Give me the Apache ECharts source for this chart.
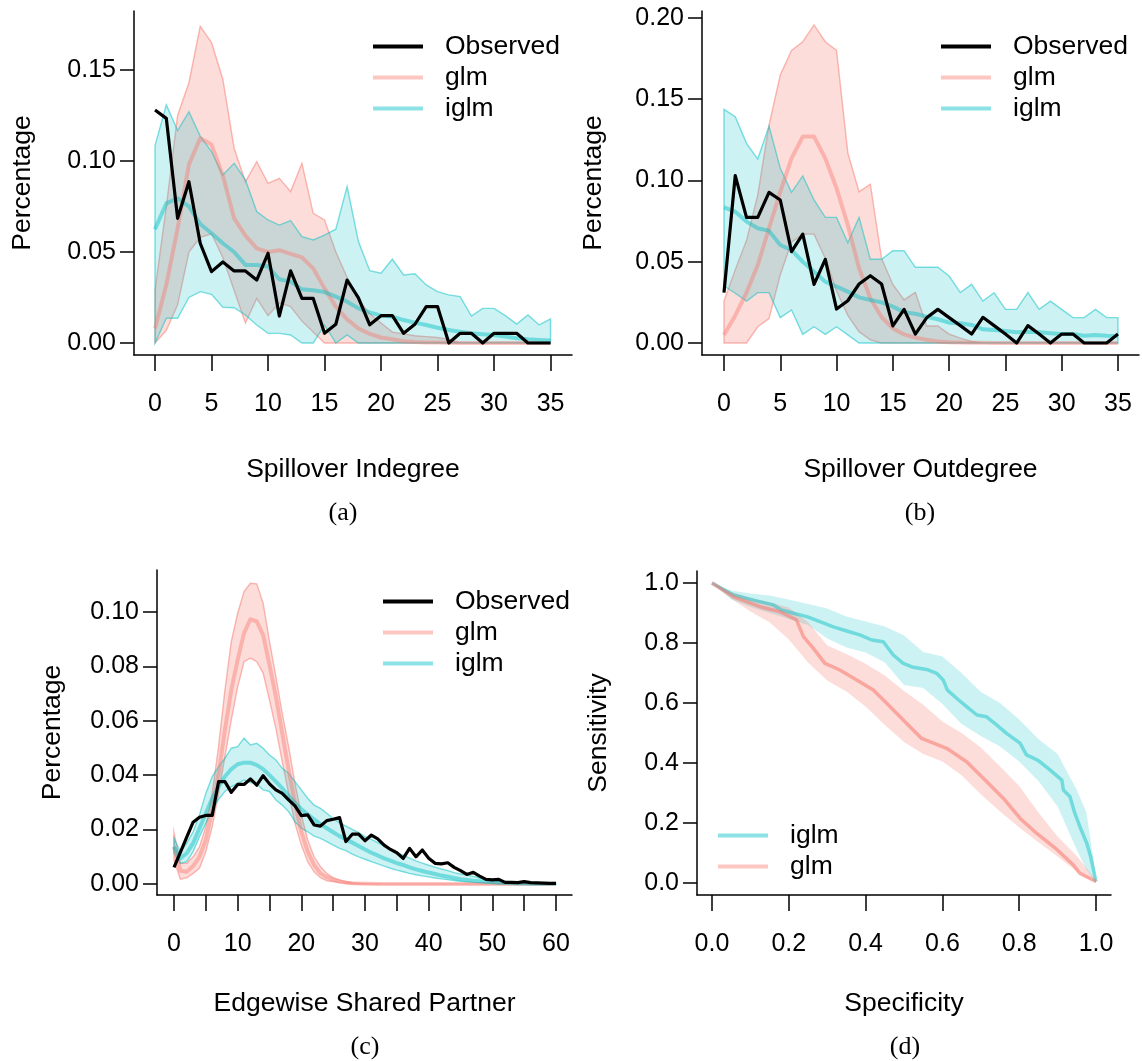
<!DOCTYPE html>
<html>
<head>
<meta charset="utf-8">
<script src="https://cdn.jsdelivr.net/npm/echarts@6/dist/echarts.min.js"></script>
<style>
html,body{margin:0;padding:0;background:#fff;}
#c{width:1142px;height:1061px;}
</style>
</head>
<body>
<div id="c"></div>
<script>
// ---------- DATA ----------
const degX = [0,1,2,3,4,5,6,7,8,9,10,11,12,13,14,15,16,17,18,19,20,21,22,23,24,25,26,27,28,29,30,31,32,33,34,35];
const espX = [0,1,2,3,4,5,6,7,8,9,10,11,12,13,14,15,16,17,18,19,20,21,22,23,24,25,26,27,28,29,30,31,32,33,34,35,36,37,38,39,40,41,42,43,44,45,46,47,48,49,50,51,52,53,54,55,56,57,58,59,60];

// (a) Spillover Indegree
const aObs = [0.128,0.1234,0.0685,0.0886,0.0548,0.0392,0.0445,0.0396,0.0396,0.0346,0.0493,0.0148,0.0396,0.0245,0.0245,0.0053,0.0103,0.0346,0.0248,0.0100,0.015,0.015,0.0053,0.0103,0.02,0.02,0,0.0053,0.0053,0,0.0053,0.0053,0.0053,0,0,0];
const aGlmMean = [0.008,0.032,0.063,0.098,0.1125,0.109,0.092,0.0685,0.059,0.052,0.050,0.051,0.049,0.047,0.041,0.030,0.020,0.013,0.008,0.005,0.003,0.002,0.001,0.0005,0.0003,0.0002,0.0001,0,0,0,0,0,0,0,0,0];
const aGlmHi = [0.029,0.075,0.125,0.143,0.174,0.165,0.145,0.107,0.0886,0.0996,0.0877,0.0905,0.0832,0.0987,0.0712,0.0676,0.050,0.036,0.024,0.016,0.011,0.006,0.005,0.004,0.0035,0.003,0.002,0,0,0,0,0,0,0,0,0];
const aGlmLo = [0,0.007,0.021,0.05,0.058,0.06,0.047,0.029,0.011,0.0245,0.015,0.022,0.02,0.012,0.006,0,0,0,0,0,0,0,0,0,0,0,0,0,0,0,0,0,0,0,0,0];
const aIglmMean = [0.0625,0.0767,0.0795,0.075,0.0654,0.0603,0.0548,0.050,0.0429,0.0429,0.042,0.035,0.0337,0.0295,0.029,0.028,0.0255,0.0227,0.019,0.0168,0.015,0.0145,0.0126,0.0112,0.0099,0.0084,0.0071,0.0062,0.0053,0.0048,0.0044,0.0035,0.0026,0.002,0.0016,0.0013];
const aIglmHi = [0.1084,0.1308,0.1167,0.1271,0.1137,0.1051,0.0923,0.0987,0.0896,0.0722,0.0676,0.0648,0.0672,0.0584,0.0566,0.0593,0.0625,0.0859,0.0557,0.0397,0.0383,0.046,0.0374,0.038,0.0319,0.0282,0.0264,0.0255,0.0148,0.019,0.019,0.015,0.0104,0.0154,0.0099,0.0132];
const aIglmLo = [0,0.0136,0.0136,0.025,0.0282,0.0267,0.0196,0.0194,0.0154,0.0099,0.0053,0.0053,0.0044,0,0,0.0099,0,0.0044,0,0,0,0,0,0,0,0,0,0,0,0,0,0,0,0,0,0];

// (b) Spillover Outdegree
const bObs = [0.031,0.103,0.0773,0.0773,0.0927,0.088,0.0562,0.067,0.0361,0.0515,0.0209,0.026,0.0363,0.0414,0.0363,0.0105,0.0207,0.0055,0.0155,0.0207,0.0156,0.0107,0.0055,0.0158,0.0107,0.0055,0,0.0107,0.0055,0,0.0055,0.0055,0,0,0,0.0055];
const bGlmMean = [0.005,0.017,0.031,0.048,0.0706,0.093,0.1136,0.127,0.127,0.1136,0.0952,0.0726,0.046,0.0275,0.016,0.009,0.0053,0.0033,0.002,0.001,0.0005,0.0003,0.0002,0.0001,0,0,0,0,0,0,0,0,0,0,0,0];
const bGlmHi = [0.0258,0.045,0.063,0.091,0.134,0.165,0.18,0.1854,0.1957,0.1854,0.18,0.117,0.093,0.0977,0.052,0.036,0.0265,0.0312,0.0105,0.0105,0.0055,0.003,0.001,0,0,0,0,0,0,0,0,0,0,0,0,0];
const bGlmLo = [0,0,0,0.01,0.015,0.042,0.062,0.067,0.067,0.052,0.032,0.017,0.007,0.002,0,0,0,0,0,0,0,0,0,0,0,0,0,0,0,0,0,0,0,0,0,0];
const bIglmMean = [0.0835,0.0808,0.0747,0.0706,0.069,0.0603,0.0572,0.050,0.0439,0.0377,0.0347,0.0316,0.0281,0.0265,0.025,0.0224,0.019,0.018,0.0162,0.0146,0.0125,0.0121,0.0111,0.0084,0.008,0.0074,0.0066,0.007,0.0066,0.006,0.0055,0.0055,0.0045,0.0049,0.0045,0.0043];
const bIglmHi = [0.1438,0.1393,0.1229,0.1132,0.1335,0.1075,0.0927,0.1028,0.088,0.0773,0.0773,0.0617,0.0773,0.0515,0.0515,0.0568,0.0568,0.0466,0.0466,0.0466,0.0412,0.031,0.0361,0.0258,0.031,0.0207,0.0207,0.031,0.0207,0.0258,0.0207,0.0156,0.0156,0.0207,0.0156,0.0156];
const bIglmLo = [0.0351,0.0306,0.0258,0.031,0.031,0.0156,0.0203,0.0053,0.01,0.0053,0.01,0.005,0,0,0,0,0,0,0,0,0,0,0,0,0,0,0,0,0,0,0,0,0,0,0,0];

// (c) Edgewise Shared Partner
const cObs = [0.0061,0.0116,0.0172,0.0227,0.0245,0.0252,0.0252,0.0376,0.0376,0.0337,0.0366,0.0366,0.0386,0.0363,0.0398,0.0368,0.0346,0.0333,0.0309,0.0287,0.0251,0.0254,0.0217,0.0213,0.0233,0.0238,0.0244,0.0156,0.0183,0.0183,0.0159,0.018,0.0166,0.0143,0.0127,0.0115,0.0094,0.0131,0.0100,0.0125,0.0095,0.0076,0.0074,0.0078,0.0061,0.0049,0.0035,0.0043,0.0029,0.0017,0.0015,0.0017,0.0006,0.0006,0.0005,0.0009,0.0005,0.0004,0.0003,0.0002,0.0002];
const cGlmMean = [0.0137,0.0049,0.0045,0.0066,0.010,0.0162,0.0272,0.0407,0.0566,0.0713,0.0824,0.0922,0.0973,0.0965,0.0915,0.0805,0.0689,0.0554,0.0419,0.0297,0.0192,0.0119,0.007,0.0039,0.0025,0.0015,0.0009,0.0005,0.0003,0.0002,0.0001,0.0001,0,0,0,0,0,0,0,0,0,0,0,0,0,0,0,0,0,0,0,0,0,0,0,0,0,0,0,0,0];
const cGlmHi = [0.0189,0.0076,0.0076,0.010,0.0137,0.0211,0.0333,0.0505,0.0713,0.0891,0.0995,0.1075,0.1105,0.1103,0.1032,0.0891,0.0762,0.0627,0.0505,0.037,0.0254,0.0162,0.010,0.0064,0.0039,0.0023,0.0015,0.0009,0.0005,0.0003,0.0002,0.0001,0.0001,0,0,0,0,0,0,0,0,0,0,0,0,0,0,0,0,0,0,0,0,0,0,0,0,0,0,0,0];
const cGlmLo = [0.0088,0.0018,0.0023,0.0039,0.0058,0.0119,0.0211,0.0333,0.0468,0.0603,0.0725,0.0817,0.083,0.0817,0.0775,0.0676,0.0572,0.045,0.0333,0.0223,0.0143,0.0082,0.0045,0.0023,0.0012,0.0009,0.0005,0.0003,0.0001,0,0,0,0,0,0,0,0,0,0,0,0,0,0,0,0,0,0,0,0,0,0,0,0,0,0,0,0,0,0,0,0];
const cIglmMean = [0.0137,0.0094,0.0113,0.015,0.0205,0.026,0.0315,0.0358,0.0395,0.0422,0.044,0.0446,0.0446,0.0437,0.0422,0.040,0.0376,0.0352,0.0324,0.0299,0.0275,0.0256,0.0238,0.022,0.0205,0.019,0.0176,0.0164,0.0152,0.014,0.0127,0.0115,0.0105,0.0094,0.0086,0.0077,0.007,0.0061,0.0054,0.0048,0.0042,0.0037,0.0031,0.0027,0.0022,0.0018,0.0015,0.0012,0.001,0.0008,0.0006,0.0005,0.0004,0.0003,0.0002,0.0002,0.0001,0.0001,0.0001,0.0001,0.0001];
const cIglmHi = [0.0168,0.0119,0.015,0.0192,0.0254,0.0333,0.0395,0.0431,0.0462,0.0499,0.0505,0.0536,0.0511,0.0517,0.0499,0.0474,0.0456,0.0425,0.0407,0.0376,0.0346,0.0315,0.029,0.0278,0.026,0.0241,0.0225,0.0213,0.0201,0.0189,0.0174,0.0164,0.0152,0.014,0.0129,0.0115,0.0105,0.0095,0.0085,0.0077,0.0069,0.0062,0.0055,0.0049,0.0042,0.0037,0.0033,0.0028,0.0022,0.0018,0.0014,0.0011,0.0009,0.0007,0.0005,0.0004,0.0003,0.0003,0.0002,0.0002,0.0002];
const cIglmLo = [0.0113,0.0076,0.0082,0.0119,0.0174,0.0223,0.0272,0.0311,0.034,0.0358,0.037,0.0382,0.0373,0.0368,0.0346,0.034,0.0309,0.029,0.0266,0.0229,0.0205,0.0192,0.0176,0.0168,0.0156,0.0143,0.0131,0.0123,0.011,0.010,0.0091,0.0082,0.0074,0.0066,0.0058,0.0051,0.0045,0.0039,0.0034,0.003,0.0026,0.0022,0.0019,0.0016,0.0013,0.001,0.0008,0.0006,0.0005,0.0004,0.0003,0.0002,0.0002,0.0001,0.0001,0,0,0,0,0,0];

// (d) ROC
const dIglmSpec = [0,0.056,0.108,0.16,0.181,0.212,0.247,0.281,0.316,0.351,0.385,0.416,0.446,0.472,0.498,0.524,0.559,0.585,0.602,0.613,0.637,0.663,0.69,0.715,0.741,0.767,0.802,0.819,0.837,0.85,0.88,0.911,0.915,0.932,0.945,0.958,0.976,0.986,1.0];
const dIglmSens = [1.0,0.96,0.943,0.927,0.91,0.899,0.888,0.871,0.854,0.84,0.827,0.81,0.804,0.76,0.732,0.719,0.712,0.699,0.677,0.643,0.616,0.588,0.56,0.554,0.527,0.499,0.466,0.427,0.416,0.408,0.377,0.343,0.31,0.288,0.232,0.188,0.132,0.088,0.005];
const dGlmSpec = [0,0.056,0.125,0.177,0.22,0.238,0.264,0.294,0.333,0.377,0.42,0.455,0.498,0.546,0.611,0.663,0.715,0.759,0.802,0.845,0.898,0.941,0.958,1.0];
const dGlmSens = [1.0,0.954,0.921,0.904,0.877,0.821,0.782,0.732,0.71,0.677,0.643,0.599,0.543,0.482,0.449,0.404,0.338,0.282,0.216,0.166,0.112,0.06,0.032,0.005];
const dBandSpec = [0,0.05,0.1,0.15,0.2,0.25,0.3,0.35,0.4,0.45,0.5,0.55,0.6,0.65,0.7,0.75,0.8,0.85,0.9,0.95,0.975,1.0];
const dIglmHi = [1.0,0.975,0.965,0.958,0.945,0.93,0.915,0.888,0.872,0.855,0.825,0.77,0.755,0.7,0.637,0.6,0.545,0.48,0.43,0.31,0.235,0.02];
const dIglmLo = [1.0,0.945,0.92,0.9,0.88,0.86,0.815,0.785,0.768,0.735,0.66,0.65,0.597,0.53,0.49,0.455,0.405,0.34,0.255,0.11,0.045,0];
const dGlmHi = [1.0,0.97,0.95,0.935,0.918,0.87,0.792,0.763,0.731,0.692,0.64,0.594,0.538,0.5,0.452,0.388,0.323,0.235,0.155,0.09,0.05,0.01];
const dGlmLo = [1.0,0.948,0.905,0.869,0.812,0.735,0.675,0.638,0.588,0.527,0.47,0.43,0.405,0.359,0.296,0.238,0.185,0.136,0.088,0.038,0.017,0];

const degTicks = [0,5,10,15,20,25,30,35];
const espTicks = [0,5,10,15,20,25,30,35,40,45,50,55,60];
const espLabels = [0,10,20,30,40,50,60];
const aYTicks = [0,0.05,0.10,0.15];
const bYTicks = [0,0.05,0.10,0.15,0.20];
const cYTicks = [0,0.02,0.04,0.06,0.08,0.10];
const dTicks = [0,0.2,0.4,0.6,0.8,1.0];

// ---------- STYLE ----------
const FONT = '"Liberation Sans", Arial, Helvetica, sans-serif';
const SERIF = '"Liberation Serif", "DejaVu Serif", serif';
const PINK_FILL = 'rgba(248,118,109,0.25)';
const PINK_EDGE = 'rgba(248,118,109,0.5)';
const PINK_MEAN = 'rgba(248,118,109,0.42)';
const TEAL_FILL = 'rgba(0,191,196,0.2)';
const TEAL_EDGE = 'rgba(0,191,196,0.5)';
const TEAL_MEAN = 'rgba(0,191,196,0.45)';
const FS = 26.5;
const TFS = 25;

function zip(xs, ys){ return xs.map((x,i)=>[x, ys[i]]); }

function band(idx, xs, lo, hi, fill, stroke){
  return {
    type: 'custom', xAxisIndex: idx, yAxisIndex: idx, silent: true, animation: false,
    data: [[xs[0], lo[0]]],
    renderItem: function(params, api){
      const pts = [];
      for (let i = 0; i < xs.length; i++) pts.push(api.coord([xs[i], hi[i]]));
      for (let i = xs.length - 1; i >= 0; i--) pts.push(api.coord([xs[i], lo[i]]));
      return { type: 'polygon', shape: { points: pts },
        style: { fill: fill, stroke: stroke || null, lineWidth: stroke ? 1.4 : 0 } };
    }
  };
}
function line(idx, name, xs, ys, color, width){
  return { type: 'line', name: name, xAxisIndex: idx, yAxisIndex: idx, data: zip(xs, ys),
    symbol: 'none', showSymbol: false, silent: true, animation: false,
    lineStyle: { color: color, width: width, join: 'round' }, itemStyle: { color: color } };
}

function xAxis(idx, min, max, ticks, labels, fmt, name, gap){
  return { type: 'value', gridIndex: idx, min: min, max: max, name: name,
    nameLocation: 'middle', nameGap: gap,
    nameTextStyle: { fontFamily: FONT, fontSize: FS, color: '#000' },
    axisLine: { show: true, onZero: false, lineStyle: { color: '#000', width: 1.5 } },
    axisTick: { show: true, length: 16, customValues: ticks, lineStyle: { color: '#000', width: 1.5 } },
    axisLabel: { show: true, customValues: labels, margin: 37, formatter: fmt,
      fontFamily: FONT, fontSize: TFS, color: '#000' },
    splitLine: { show: false } };
}
function yAxis(idx, min, max, ticks, fmt, name, gap){
  return { type: 'value', gridIndex: idx, min: min, max: max, name: name,
    nameLocation: 'middle', nameGap: gap, nameRotate: 90,
    nameTextStyle: { fontFamily: FONT, fontSize: FS, color: '#000' },
    axisLine: { show: true, onZero: false, lineStyle: { color: '#000', width: 1.5 } },
    axisTick: { show: true, length: 14, customValues: ticks, lineStyle: { color: '#000', width: 1.5 } },
    axisLabel: { show: true, customValues: ticks, margin: 18, formatter: fmt,
      fontFamily: FONT, fontSize: TFS, color: '#000' },
    splitLine: { show: false } };
}
function legend(left, top, names, heights){
  return { show: true, orient: 'vertical', left: left, top: top, padding: 0,
    itemWidth: 50, itemHeight: 4, itemGap: 4, selectedMode: false,
    data: names.map(n => ({ name: n, icon: 'rect' })),
    textStyle: { fontFamily: FONT, fontSize: FS, lineHeight: 27, color: '#000', padding: [0,0,0,17] } };
}

const f2 = v => Number(v).toFixed(2);
const f1 = v => Number(v).toFixed(1);
const f0 = v => String(Math.round(v));

const option = {
  backgroundColor: '#fff',
  animation: false,
  grid: [
    { left: 134, top: 11, width: 438, height: 344 },
    { left: 702, top: 11, width: 437, height: 344 },
    { left: 157, top: 570, width: 415, height: 325 },
    { left: 697, top: 571, width: 414, height: 324 }
  ],
  xAxis: [
    xAxis(0, -1.86, 36.9, degTicks, degTicks, f0, 'Spillover Indegree', 101),
    xAxis(1, -1.954, 36.87, degTicks, degTicks, f0, 'Spillover Outdegree', 101),
    xAxis(2, -2.67, 62.51, espTicks, espLabels, f0, 'Edgewise Shared Partner', 95),
    xAxis(3, -0.039, 1.039, dTicks, dTicks, f1, 'Specificity', 95)
  ],
  yAxis: [
    yAxis(0, -0.0066, 0.1824, aYTicks, f2, 'Percentage', 98),
    yAxis(1, -0.00738, 0.2043, bYTicks, f2, 'Percentage', 95),
    yAxis(2, -0.00404, 0.1154, cYTicks, f2, 'Percentage', 91),
    yAxis(3, -0.04, 1.04, dTicks, f1, 'Sensitivity', 85)
  ],
  legend: [
    legend(373, 33, ['Observed','glm','iglm']),
    legend(941, 33, ['Observed','glm','iglm']),
    legend(383, 588, ['Observed','glm','iglm']),
    legend(718, 822, ['iglm','glm'])
  ],
  graphic: [
    { type: 'text', x: 343, y: 513, style: { text: '(a)', font: '26px ' + SERIF, fill: '#000', textAlign: 'center', textVerticalAlign: 'middle' } },
    { type: 'text', x: 920, y: 513, style: { text: '(b)', font: '26px ' + SERIF, fill: '#000', textAlign: 'center', textVerticalAlign: 'middle' } },
    { type: 'text', x: 365, y: 1047, style: { text: '(c)', font: '26px ' + SERIF, fill: '#000', textAlign: 'center', textVerticalAlign: 'middle' } },
    { type: 'text', x: 905, y: 1047, style: { text: '(d)', font: '26px ' + SERIF, fill: '#000', textAlign: 'center', textVerticalAlign: 'middle' } }
  ],
  series: [
    // (a)
    band(0, degX, aGlmLo, aGlmHi, PINK_FILL, PINK_EDGE),
    line(0, 'glm', degX, aGlmMean, PINK_MEAN, 4),
    band(0, degX, aIglmLo, aIglmHi, TEAL_FILL, TEAL_EDGE),
    line(0, 'iglm', degX, aIglmMean, TEAL_MEAN, 4),
    line(0, 'Observed', degX, aObs, '#000', 3.2),
    // (b)
    band(1, degX, bGlmLo, bGlmHi, PINK_FILL, PINK_EDGE),
    line(1, 'glm', degX, bGlmMean, PINK_MEAN, 4),
    band(1, degX, bIglmLo, bIglmHi, TEAL_FILL, TEAL_EDGE),
    line(1, 'iglm', degX, bIglmMean, TEAL_MEAN, 4),
    line(1, 'Observed', degX, bObs, '#000', 3.2),
    // (c)
    band(2, espX, cGlmLo, cGlmHi, PINK_FILL, PINK_EDGE),
    line(2, 'glm', espX, cGlmMean, PINK_MEAN, 4),
    band(2, espX, cIglmLo, cIglmHi, TEAL_FILL, TEAL_EDGE),
    line(2, 'iglm', espX, cIglmMean, TEAL_MEAN, 4),
    line(2, 'Observed', espX, cObs, '#000', 3.2),
    // (d)
    band(3, dBandSpec, dIglmLo, dIglmHi, TEAL_FILL, null),
    line(3, 'iglm', dIglmSpec, dIglmSens, TEAL_MEAN, 3.5),
    band(3, dBandSpec, dGlmLo, dGlmHi, PINK_FILL, null),
    line(3, 'glm', dGlmSpec, dGlmSens, 'rgba(248,118,109,0.55)', 3.5)
  ]
};

const chart = echarts.init(document.getElementById('c'), null, { renderer: 'canvas' });
chart.setOption(option);
</script>
</body>
</html>
